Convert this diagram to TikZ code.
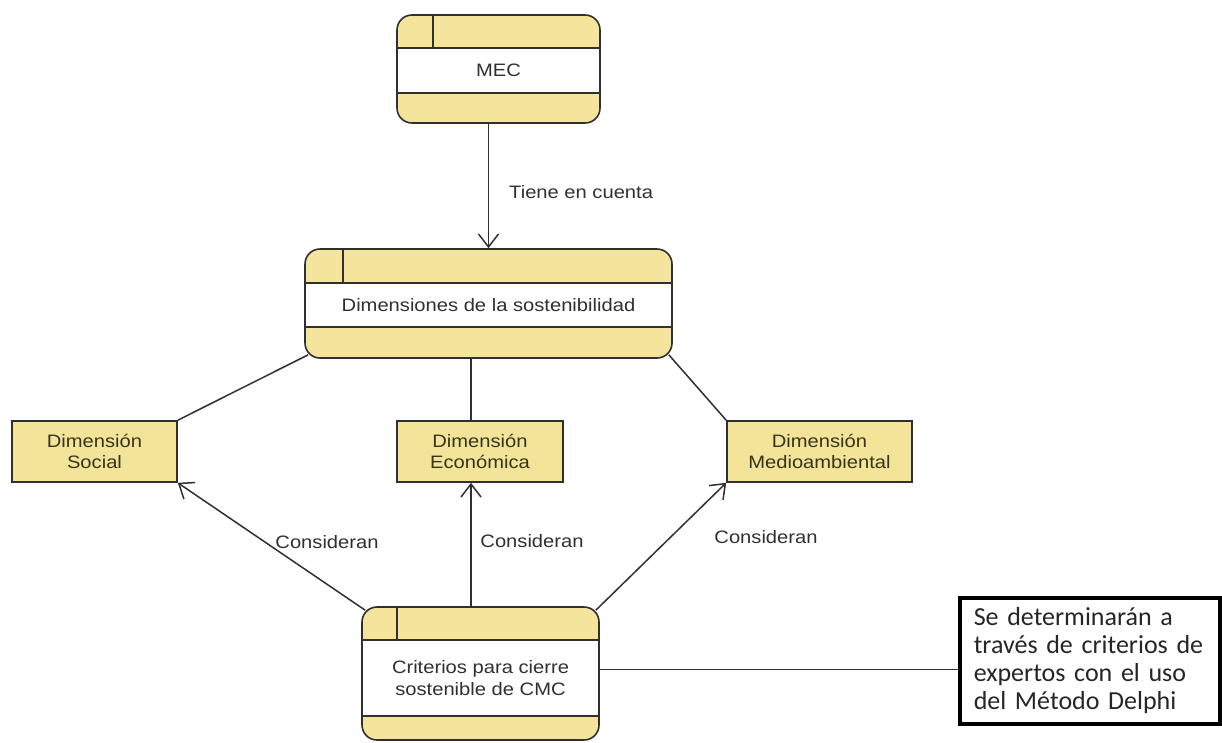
\documentclass[tikz,border=0pt]{standalone}
\usepackage{fontspec}
\setmainfont{Liberation Sans}[FakeStretch=1.12]
\newfontfamily\notefont{Carlito}
\usetikzlibrary{arrows.meta,calc,fit}

\definecolor{bandyellow}{HTML}{F5E59C}
\definecolor{dimyellow}{HTML}{F3E499}
\definecolor{inkgray}{HTML}{303030}
\definecolor{dimink}{HTML}{36351A}

\tikzset{
  outline/.style={draw=inkgray, line width=1.6pt},
  proctext/.style={font=\fontsize{18}{22}\selectfont, text=inkgray, align=center, inner sep=0pt},
  dimbox/.style={draw=inkgray, line width=1.6pt, fill=dimyellow, minimum height=61pt,
    inner sep=0pt, font=\fontsize{18}{21}\selectfont, text=dimink, align=center},
  link/.style={draw=inkgray, line width=1.5pt},
  flow/.style={link, -{Straight Barb[length=13pt,width=20pt,line width=1.5pt]}},
  flowlabel/.style={font=\fontsize{18}{21}\selectfont, text=inkgray, inner sep=0pt},
  notebox/.style={draw=black, line width=3.5pt, fill=white, anchor=north west,
    minimum width=260pt, minimum height=126pt, text width=232pt, inner xsep=14pt,
    align=left, font=\notefont\fontsize{26}{28}\selectfont, text=black!85}
}

% #1 name, #2 left, #3 top, #4 right, #5 bottom,
% #6 header rule, #7 footer rule, #8 tab rule, #9 text
\newcommand{\stackbox}[9]{%
  \coordinate (#1-nw) at (#2,#3);
  \coordinate (#1-se) at (#4,#5);
  \fill[bandyellow, rounded corners=15pt] (#2,#3) rectangle (#4,#5);
  \fill[white] (#2,#6) rectangle (#4,#7);
  \draw[outline] (#2,#6) -- (#4,#6) (#2,#7) -- (#4,#7) (#8,#3) -- (#8,#6);
  \node[fit=(#1-nw)(#1-se), inner sep=0pt, outline, rounded corners=15pt] (#1) {};
  \node[proctext] (#1-text) at ($(#2,#6)!0.5!(#4,#7)$) {#9};
}

\begin{document}
\begin{tikzpicture}[x=1pt, y=-1pt]
  \useasboundingbox (0,0) rectangle (1222,742);

  % process boxes
  \stackbox{mec}{397}{15}{600}{123}{48}{93}{433}{MEC}
  \stackbox{dims}{305}{249}{672}{358}{283}{327}{343}{Dimensiones de la sostenibilidad}
  \stackbox{crit}{362}{607}{599}{740}{640}{716}{397}{Criterios para cierre\\sostenible de CMC}

  % the three dimensions
  \node[dimbox, minimum width=165pt] (social) at (94.5,451.5) {Dimensión\\Social};
  \node[dimbox, minimum width=166pt] (econ) at (480,451.5) {Dimensión\\Económica};
  \node[dimbox, minimum width=185pt] (medio) at (819.5,451.5) {Dimensión\\Medioambiental};

  % note
  \node[notebox] (note) at (958,596) {Se determinarán a\\través de criterios de\\expertos con el uso\\del Método Delphi};

  % connectors
  \draw[flow] (dims.north |- mec.south) -- (dims.north);
  \node[flowlabel, anchor=west] (lbl-tiene) at (509,192) {Tiene en cuenta};

  \coordinate (econ-axis) at ([xshift=-9pt]econ.north);
  \draw[link] ($(dims.south west)+(4,-4)$) -- (social.north east);
  \draw[link] (econ-axis |- dims.south) -- (econ-axis);
  \draw[link] ($(dims.south east)+(-4,-4)$) -- (medio.north west);

  \draw[flow] ($(crit.north west)+(4,4)$) -- (social.south east);
  \draw[flow] (econ-axis |- crit.north) -- (econ-axis |- econ.south);
  \draw[flow] ($(crit.north east)+(-4,4)$) -- (medio.south west);

  \node[flowlabel] (lbl-social) at (327,542) {Consideran};
  \node[flowlabel] (lbl-econ) at (532,541) {Consideran};
  \node[flowlabel] (lbl-medio) at (766,537) {Consideran};

  \draw[link] ([yshift=4pt]crit.east) -- ([yshift=4pt]crit.east -| note.west);
\end{tikzpicture}
\end{document}
